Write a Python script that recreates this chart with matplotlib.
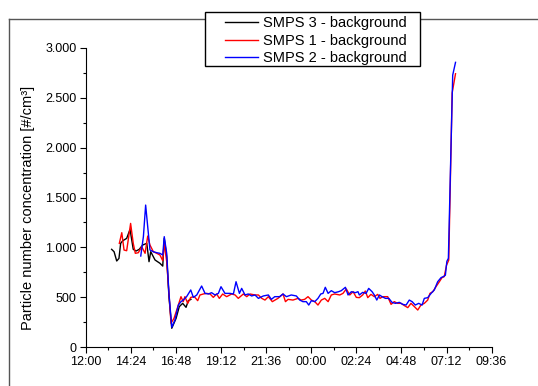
import matplotlib as mpl

mpl.use("Agg")
import matplotlib.pyplot as plt  # noqa
from matplotlib.ticker import MultipleLocator, FuncFormatter  # noqa
from matplotlib.lines import Line2D  # noqa
from matplotlib.patches import Rectangle  # noqa

plt.rcParams['font.family'] = ['Liberation Sans', 'DejaVu Sans']

# time in hours since midnight of day 1 (values > 24 are the next morning)
black_t = [13.38, 13.51, 13.65, 13.77, 13.86, 13.97, 14.18, 14.36, 14.53, 14.68,
           14.85, 15.03, 15.25, 15.37, 15.46, 15.69, 15.95, 16.10, 16.18, 16.31,
           16.43, 16.58, 16.81, 16.98, 17.16, 17.34, 17.46, 17.60]
black_v = [980, 956, 863, 889, 1040, 1066, 1090, 1180, 980, 963,
           980, 1023, 1040, 856, 956, 873, 840, 812, 1090, 906,
           505, 188, 288, 405, 438, 398, 465, 478]

red_t = [13.79, 13.92, 14.04, 14.18, 14.39, 14.53, 14.64, 14.80, 14.98, 15.16,
         15.30, 15.42, 15.60, 15.78, 15.95, 16.10, 16.18, 16.31, 16.43, 16.54,
         16.70, 16.93, 17.07, 17.19, 17.28, 17.43, 17.59, 17.78, 17.96, 18.08,
         18.26, 18.44, 18.62, 18.79, 18.97, 19.11, 19.29, 19.50, 19.77, 19.95,
         20.12, 20.39, 20.57, 20.74, 21.01, 21.19, 21.37, 21.54, 21.72, 21.93,
         22.23, 22.50, 22.63, 22.77, 23.03, 23.30, 23.47, 23.65, 23.83, 24.01,
         24.19, 24.36, 24.54, 24.72, 24.90, 25.07, 25.25, 25.52, 25.69, 25.87,
         26.05, 26.23, 26.40, 26.56, 26.74, 26.88, 27.01, 27.18, 27.36, 27.54,
         27.66, 27.81, 28.07, 28.25, 28.42, 28.60, 28.78, 28.96, 29.14, 29.31,
         29.49, 29.67, 29.84, 30.02, 30.20, 30.32, 30.47, 30.64, 30.82, 30.96,
         31.08, 31.20, 31.32, 31.50, 31.68]
red_v = [1040, 1147, 973, 966, 1240, 1040, 940, 946, 1006, 940,
         1113, 1023, 956, 940, 923, 866, 1040, 856, 538, 238,
         288, 421, 505, 455, 505, 438, 498, 505, 465, 522,
         532, 538, 532, 498, 532, 488, 532, 505, 532, 522,
         488, 532, 505, 532, 522, 522, 488, 471, 505, 455,
         488, 532, 455, 478, 471, 488, 471, 478, 505, 471,
         455, 421, 471, 488, 455, 522, 532, 522, 538, 582,
         522, 555, 498, 495, 522, 562, 495, 528, 505, 528,
         488, 505, 505, 428, 455, 438, 438, 415, 395, 438,
         405, 371, 421, 438, 471, 538, 555, 605, 655, 696,
         706, 820, 872, 2548, 2742]

blue_t = [14.93, 15.07, 15.19, 15.30, 15.42, 15.60, 15.78, 15.95, 16.10, 16.18,
          16.31, 16.43, 16.58, 16.75, 16.93, 17.07, 17.19, 17.37, 17.59, 17.73,
          17.91, 18.17, 18.35, 18.53, 18.70, 18.88, 19.06, 19.20, 19.41, 19.68,
          19.86, 20.00, 20.18, 20.30, 20.48, 20.65, 20.83, 21.01, 21.19, 21.45,
          21.72, 21.88, 22.06, 22.32, 22.50, 22.68, 22.94, 23.21, 23.39, 23.56,
          23.74, 23.87, 24.01, 24.19, 24.36, 24.51, 24.63, 24.75, 24.90, 25.07,
          25.25, 25.46, 25.60, 25.82, 25.96, 26.14, 26.35, 26.49, 26.56, 26.74,
          26.92, 27.06, 27.24, 27.36, 27.49, 27.63, 27.77, 27.95, 28.13, 28.30,
          28.48, 28.69, 28.87, 29.05, 29.22, 29.37, 29.54, 29.72, 29.90, 30.02,
          30.20, 30.38, 30.55, 30.73, 30.91, 31.03, 31.14, 31.22, 31.30, 31.53,
          31.68]
blue_v = [913, 1107, 1424, 1207, 973, 956, 946, 940, 923, 1107,
          940, 538, 198, 271, 421, 455, 471, 505, 572, 498,
          522, 612, 538, 532, 545, 522, 538, 605, 538, 538,
          532, 655, 538, 588, 522, 532, 512, 522, 488, 512,
          522, 478, 505, 505, 532, 505, 522, 512, 471, 455,
          455, 421, 465, 455, 488, 532, 538, 599, 538, 565,
          545, 555, 565, 599, 522, 555, 545, 555, 522, 548,
          538, 588, 555, 522, 471, 522, 505, 488, 488, 448,
          438, 448, 428, 421, 471, 455, 421, 438, 421, 488,
          495, 538, 572, 655, 696, 706, 720, 860, 890, 2728,
          2856]

xtick_labels = ['12:00', '14:24', '16:48', '19:12', '21:36',
                '00:00', '02:24', '04:48', '07:12', '09:36']

W, H = 538, 386
fig = plt.figure(figsize=(W / 100, H / 100), dpi=100)
ax = fig.add_axes([85.7 / W, 1 - 347 / H, (491.6 - 85.7) / W, (347 - 48) / H])

ax.plot(black_t, black_v, color='black', lw=1.0, label='SMPS 3 - background')
ax.plot(red_t, red_v, color='red', lw=1.0, label='SMPS 1 - background')
ax.plot(blue_t, blue_v, color='blue', lw=1.0, label='SMPS 2 - background')

ax.set_xlim(12, 33.6)
ax.set_ylim(0, 3000)
ax.set_xticks([12 + 2.4 * i for i in range(len(xtick_labels))])
ax.set_xticklabels(xtick_labels)
ax.xaxis.set_minor_locator(MultipleLocator(1.2))
ax.yaxis.set_major_locator(MultipleLocator(500))
ax.yaxis.set_minor_locator(MultipleLocator(250))
ax.yaxis.set_major_formatter(FuncFormatter(lambda v, p: f'{int(v):,}'.replace(',', '.')))

for s in ('top', 'right'):
    ax.spines[s].set_visible(False)
for s in ('left', 'bottom'):
    ax.spines[s].set_linewidth(0.8)
ax.tick_params(which='major', direction='out', length=4.5, width=0.8,
               labelsize=9, pad=2)
ax.tick_params(which='minor', direction='out', length=2.5, width=0.8)
ax.set_ylabel('Particle number concentration [#/cm³]', fontsize=10.5)
ax.yaxis.set_label_coords(-0.125, 0.465)

# page frame lines
fig.add_artist(Line2D([8.5 / W, 1], [1 - 18.5 / H, 1 - 18.5 / H], color='#555555', lw=1.0))
fig.add_artist(Line2D([8.5 / W, 8.5 / W], [0, 1 - 18.5 / H], color='#555555', lw=1.0))

# legend box
fig.add_artist(Rectangle((205 / W, 1 - 65.7 / H), (420 - 205) / W, (65.7 - 11.7) / H,
                         transform=fig.transFigure, facecolor='white',
                         edgecolor='black', lw=1.0, zorder=5))
leg = fig.legend(loc='upper left', bbox_to_anchor=(224.8 / W, 1 - 16.5 / H),
                 frameon=False, fontsize=10.5, handlelength=2.3,
                 handletextpad=0.35, labelspacing=0.22, borderpad=0,
                 borderaxespad=0)
leg.set_zorder(6)

fig.savefig('out.png', dpi=100)
